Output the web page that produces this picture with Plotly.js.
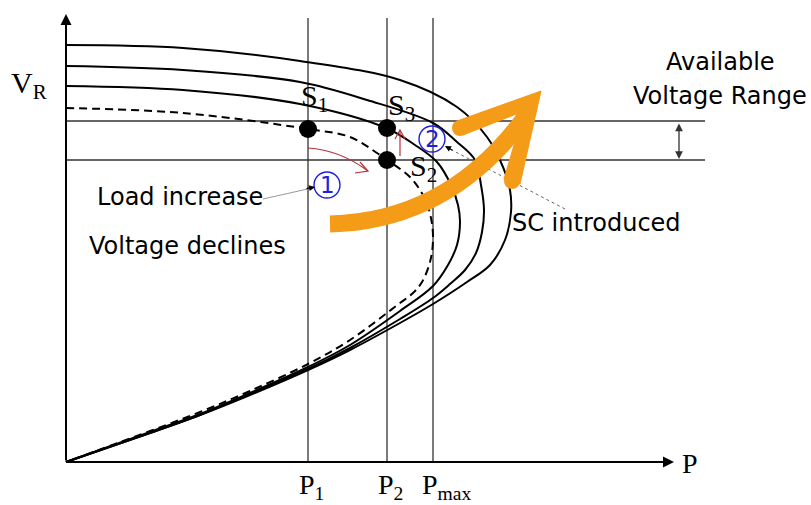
<!DOCTYPE html>
<html>
<head>
<meta charset="utf-8">
<script src="https://cdn.plot.ly/plotly-3.0.1.min.js"></script>
<style>html,body{margin:0;padding:0;background:#fff;}#chart{width:811px;height:505px;}</style>
</head>
<body>
<div id="chart"></div>
<script>
// ---- data (P, V in drawing units; origin at the axes' corner) ----
const P1 = 242, P2 = 321, Pmax = 367;
const Vhigh = 341, Vlow = 302;

// outer solid curve (highest compensation)
const c1P = [0,117,234,334,391,421,437,444,445,439,424,401,367,334,284,242,184,134,84,0];
const c1V = [417,414,401,382,355,325,295,272,250,222,197,180,158,139,112,92,67,47,29,0];
// middle solid curve
const c2P = [0,117,234,301,367,391,409,415,418,416,410,399,384,367,334,284,242,184,134,84,0];
const c2V = [396,392,380,362,339,320,302,277,252,230,209,192,178,164,143,114,93,68,47,29,0];
// inner solid curve
const c3P = [0,117,234,320,349,371,385,392,394,391,382,367,334,284,242,184,134,84,0];
const c3V = [376,372,358,334,317,300,277,257,240,217,197,176,151,117,95,69,48,30,0];
// dashed curve (no compensation)
const c0P = [0,117,242,284,311,321,344,358,365,367,364,356,347,334,284,242,184,134,84,0];
const c0V = [354,349,333,325,309,302,285,265,244,222,200,180,169,159,122,98,71,50,31,0];

// operating points
const ptNames = ["S1","S2","S3"];
const ptP = [P1, P2, P2];
const ptV = [333, 302, 334];

// tick labels
const tickVals = [P1, P2, Pmax];
const tickText = ["P<sub>1</sub>", "P<sub>2</sub>", "P<sub>max</sub>"];

const ORANGE = '#f49b17';
const RED = '#b8323a';
const BLUE = '#1f1fe0';
const SANS = 'DejaVu Sans, sans-serif';
const SERIF = 'Liberation Serif, DejaVu Serif, serif';

const curveLine = {color:'#000', width:2, shape:'spline', smoothing:1};
const traces = [
  {x:c1P, y:c1V, mode:'lines', line:curveLine},
  {x:c2P, y:c2V, mode:'lines', line:curveLine},
  {x:c3P, y:c3V, mode:'lines', line:curveLine},
  {x:c0P, y:c0V, mode:'lines', line:Object.assign({}, curveLine, {dash:'8px,5px'})},
  {x:ptP, y:ptV, text:ptNames, mode:'markers', marker:{color:'#000', size:18}}
];

const shapes = [];
// guide lines at P1, P2, Pmax
tickVals.forEach(p => shapes.push({type:'line', layer:'below', x0:p, x1:p, y0:0, y1:444, line:{color:'#333', width:1.3}}));
// voltage range limits
[Vhigh, Vlow].forEach(v => shapes.push({type:'line', layer:'below', x0:0, x1:639, y0:v, y1:v, line:{color:'#333', width:1.3}}));
// red arrows
shapes.push({type:'path', path:'M 242,314 Q 274,312 302,291', line:{color:RED, width:1.2}});
shapes.push({type:'path', path:'M 294,300 L 302,291 L 289,289', line:{color:RED, width:1.2}});
shapes.push({type:'line', x0:334, x1:334, y0:306, y1:332, line:{color:RED, width:1.2}});
shapes.push({type:'path', path:'M 329,323 L 334,332 L 339,323', line:{color:RED, width:1.2}});
// pointer lines
shapes.push({type:'line', x0:197, y0:263, x1:246, y1:274, line:{color:'#999', width:1}});
shapes.push({type:'line', x0:499, y0:253, x1:382, y1:314, line:{color:'#666', width:1, dash:'dot'}});
// circled numbers
shapes.push({type:'circle', x0:248, x1:274, y0:264, y1:290, line:{color:BLUE, width:1.4}});
shapes.push({type:'circle', x0:353, x1:379, y0:310, y1:336, line:{color:BLUE, width:1.4}});
// orange arrow
shapes.push({type:'path', path:'M 264,238 Q 385,241 462,349', line:{color:ORANGE, width:17}});
shapes.push({type:'path', path:'M 391,341 L 475,371 L 454,278 L 438,283 L 458,351 L 397,327 Z', fillcolor:ORANGE, line:{color:ORANGE, width:1}});
shapes.push({type:'circle', x0:386, x1:402, y0:326, y1:342, fillcolor:ORANGE, line:{width:0}});
shapes.push({type:'circle', x0:438, x1:454, y0:273, y1:289, fillcolor:ORANGE, line:{width:0}});

function txt(x, y, text, size, family, color, extra){
  return Object.assign({x:x, y:y, text:text, showarrow:false, xanchor:'center', yanchor:'middle',
    font:{family:family, size:size, color:color||'#000'}}, extra||{});
}
const annotations = [
  // axis arrows
  {x:0, y:448, ax:0, ay:0, axref:'x', ayref:'y', text:'', showarrow:true, arrowhead:2, arrowsize:1.1, arrowwidth:2, arrowcolor:'#000'},
  {x:608, y:0, ax:0, ay:0, axref:'x', ayref:'y', text:'', showarrow:true, arrowhead:2, arrowsize:1.1, arrowwidth:2, arrowcolor:'#000'},
  // double arrow for voltage range
  {x:613, y:Vlow+1, ax:613, ay:Vhigh-1, axref:'x', ayref:'y', text:'', showarrow:true, arrowhead:2, startarrowhead:2, arrowside:'end+start', arrowsize:1.2, arrowwidth:1.3, arrowcolor:'#333'},
  // small arrowheads on pointer lines
  {x:249, y:275, ax:239, ay:273, axref:'x', ayref:'y', text:'', showarrow:true, arrowhead:2, arrowsize:1, arrowwidth:1.2, arrowcolor:'#000'},
  {x:379, y:316, ax:388, ay:311, axref:'x', ayref:'y', text:'', showarrow:true, arrowhead:2, arrowsize:1, arrowwidth:1.2, arrowcolor:'#000'},
  // axis labels
  txt(-37, 377, 'V<sub>R</sub>', 30, SERIF),
  txt(624, -1, 'P', 28, SERIF),
  // point labels
  txt(248, 364, 'S<sub>1</sub>', 30, SERIF),
  txt(335, 355, 'S<sub>3</sub>', 30, SERIF),
  txt(357, 294, 'S<sub>2</sub>', 30, SERIF),
  // circled numbers
  txt(261, 277, '1', 23, SANS, BLUE),
  txt(366, 323, '2', 23, SANS, BLUE),
  // text labels
  txt(114, 265, 'Load increase', 24, SANS),
  txt(121, 216, 'Voltage declines', 24, SANS),
  txt(530, 239, 'SC introduced', 24, SANS),
  txt(654, 400, 'Available', 24, SANS),
  txt(654, 366, 'Voltage Range', 24, SANS)
];
// tick labels under the P axis
tickVals.forEach((p, i) => annotations.push(txt(p + (i === 2 ? 14 : 3), -24, tickText[i], 28, SERIF)));

const layout = {
  width:811, height:505,
  margin:{l:0, r:0, t:0, b:0},
  paper_bgcolor:'#fff', plot_bgcolor:'#fff',
  showlegend:false, hovermode:false,
  xaxis:{range:[-66, 745], visible:false, fixedrange:true},
  yaxis:{range:[-43, 462], visible:false, fixedrange:true},
  shapes:shapes, annotations:annotations
};
Plotly.newPlot('chart', traces, layout, {staticPlot:true, displayModeBar:false});
</script>
</body>
</html>
